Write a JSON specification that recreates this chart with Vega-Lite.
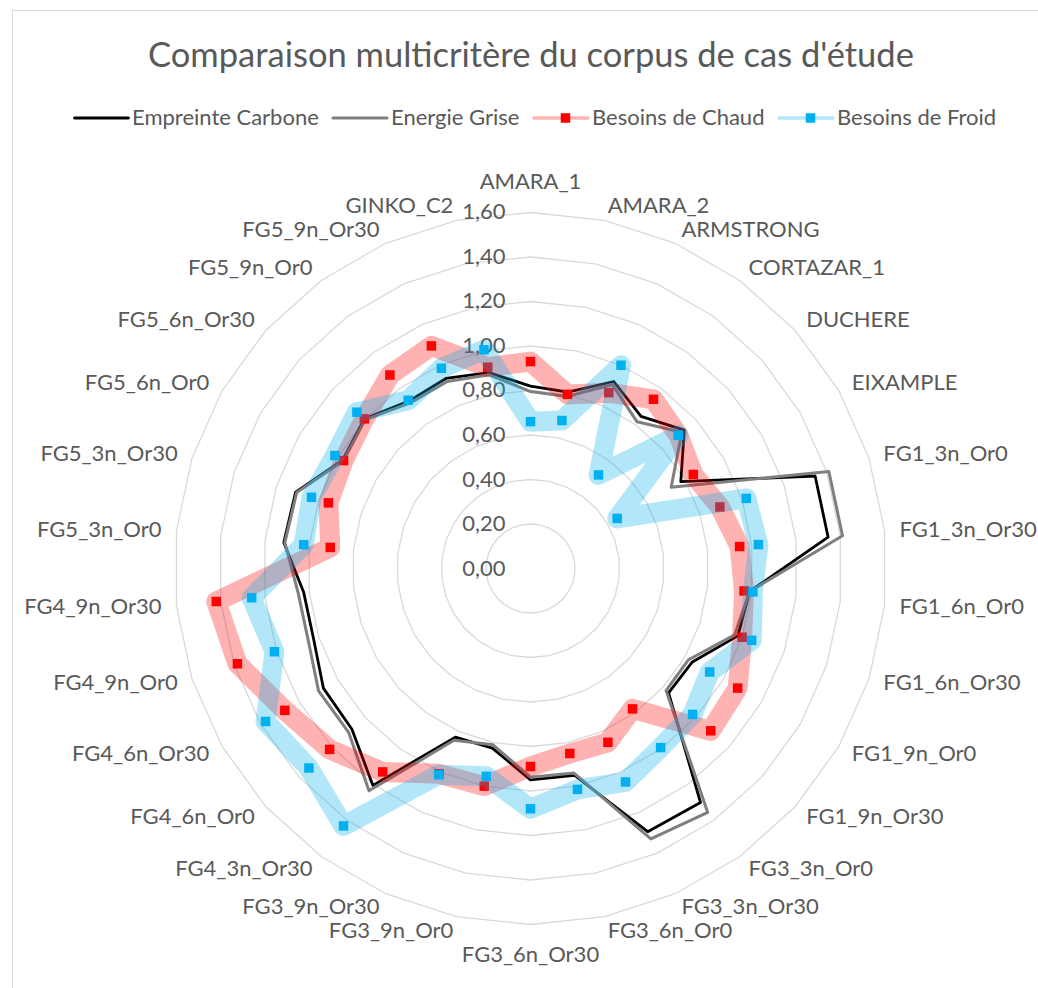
{
  "$schema": "https://vega.github.io/schema/vega-lite/v6.json",
  "width": 1026,
  "height": 978,
  "autosize": {"type": "none"},
  "padding": {"left": 12, "top": 10, "right": 0, "bottom": 0},
  "background": "white",
  "config": {"view": {"stroke": "#d9d9d9", "strokeWidth": 1}, "font": "Lato"},
  "title": {"text": "Comparaison multicritère du corpus de cas d'étude", "font": "Lato", "fontSize": 34.5, "fontWeight": "normal", "color": "#595959", "anchor": "middle", "dx": 6, "dy": 68},
  "datasets": {
    "rings": [
      {"r": 0.0, "label": "0,00", "k": [0]},
      {"r": 0.2, "label": "0,20", "k": [0,1,2,3,4,5,6,7,8,9,10,11,12,13,14,15,16,17,18,19,20,21,22,23,24,25,26,27,28,29]},
      {"r": 0.4, "label": "0,40", "k": [0,1,2,3,4,5,6,7,8,9,10,11,12,13,14,15,16,17,18,19,20,21,22,23,24,25,26,27,28,29]},
      {"r": 0.6, "label": "0,60", "k": [0,1,2,3,4,5,6,7,8,9,10,11,12,13,14,15,16,17,18,19,20,21,22,23,24,25,26,27,28,29]},
      {"r": 0.8, "label": "0,80", "k": [0,1,2,3,4,5,6,7,8,9,10,11,12,13,14,15,16,17,18,19,20,21,22,23,24,25,26,27,28,29]},
      {"r": 1.0, "label": "1,00", "k": [0,1,2,3,4,5,6,7,8,9,10,11,12,13,14,15,16,17,18,19,20,21,22,23,24,25,26,27,28,29]},
      {"r": 1.2, "label": "1,20", "k": [0,1,2,3,4,5,6,7,8,9,10,11,12,13,14,15,16,17,18,19,20,21,22,23,24,25,26,27,28,29]},
      {"r": 1.4, "label": "1,40", "k": [0,1,2,3,4,5,6,7,8,9,10,11,12,13,14,15,16,17,18,19,20,21,22,23,24,25,26,27,28,29]},
      {"r": 1.6, "label": "1,60", "k": [0,1,2,3,4,5,6,7,8,9,10,11,12,13,14,15,16,17,18,19,20,21,22,23,24,25,26,27,28,29]}
    ],
    "cases": [
      {"cat": "AMARA_1", "Empreinte Carbone": 0.82, "Energie Grise": 0.795, "Besoins de Chaud": 0.93, "Besoins de Froid": 0.66},
      {"cat": "AMARA_2", "Empreinte Carbone": 0.81, "Energie Grise": 0.79, "Besoins de Chaud": 0.80, "Besoins de Froid": 0.68},
      {"cat": "ARMSTRONG", "Empreinte Carbone": 0.92, "Energie Grise": 0.905, "Besoins de Chaud": 0.865, "Besoins de Froid": 1.00},
      {"cat": "CORTAZAR_1", "Empreinte Carbone": 0.845, "Energie Grise": 0.815, "Besoins de Chaud": 0.94, "Besoins de Froid": 0.52},
      {"cat": "DUCHERE", "Empreinte Carbone": 0.93, "Energie Grise": 0.915, "Besoins de Chaud": 0.895, "Besoins de Froid": 0.895},
      {"cat": "EIXAMPLE", "Empreinte Carbone": 0.78, "Energie Grise": 0.73, "Besoins de Chaud": 0.845, "Besoins de Froid": 0.45},
      {"cat": "FG1_3n_Or0", "Empreinte Carbone": 1.345, "Energie Grise": 1.41, "Besoins de Chaud": 0.895, "Besoins de Froid": 1.02},
      {"cat": "FG1_3n_Or30", "Empreinte Carbone": 1.345, "Energie Grise": 1.41, "Besoins de Chaud": 0.945, "Besoins de Froid": 1.03},
      {"cat": "FG1_6n_Or0", "Empreinte Carbone": 0.99, "Energie Grise": 0.99, "Besoins de Chaud": 0.965, "Besoins de Froid": 1.005},
      {"cat": "FG1_6n_Or30", "Empreinte Carbone": 0.98, "Energie Grise": 0.965, "Besoins de Chaud": 1.0, "Besoins de Froid": 1.045},
      {"cat": "FG1_9n_Or0", "Empreinte Carbone": 0.84, "Energie Grise": 0.82, "Besoins de Chaud": 1.075, "Besoins de Froid": 0.93},
      {"cat": "FG1_9n_Or30", "Empreinte Carbone": 0.835, "Energie Grise": 0.82, "Besoins de Chaud": 1.09, "Besoins de Froid": 0.98},
      {"cat": "FG3_3n_Or0", "Empreinte Carbone": 1.30, "Energie Grise": 1.355, "Besoins de Chaud": 0.78, "Besoins de Froid": 0.995},
      {"cat": "FG3_3n_Or30", "Empreinte Carbone": 1.295, "Energie Grise": 1.33, "Besoins de Chaud": 0.855, "Besoins de Froid": 1.05},
      {"cat": "FG3_6n_Or0", "Empreinte Carbone": 0.95, "Energie Grise": 0.94, "Besoins de Chaud": 0.85, "Besoins de Froid": 1.015},
      {"cat": "FG3_6n_Or30", "Empreinte Carbone": 0.95, "Energie Grise": 0.938, "Besoins de Chaud": 0.89, "Besoins de Froid": 1.08},
      {"cat": "FG3_9n_Or0", "Empreinte Carbone": 0.825, "Energie Grise": 0.81, "Besoins de Chaud": 1.0, "Besoins de Froid": 0.955},
      {"cat": "FG3_9n_Or30", "Empreinte Carbone": 0.83, "Energie Grise": 0.845, "Besoins de Chaud": 1.01, "Besoins de Froid": 1.015},
      {"cat": "FG4_3n_Or30", "Empreinte Carbone": 1.205, "Energie Grise": 1.235, "Besoins de Chaud": 1.13, "Besoins de Froid": 1.43},
      {"cat": "FG4_6n_Or0", "Empreinte Carbone": 1.08, "Energie Grise": 1.10, "Besoins de Chaud": 1.215, "Besoins de Froid": 1.34},
      {"cat": "FG4_6n_Or30", "Empreinte Carbone": 1.075, "Energie Grise": 1.10, "Besoins de Chaud": 1.275, "Besoins de Froid": 1.375},
      {"cat": "FG4_9n_Or0", "Empreinte Carbone": 1.025, "Energie Grise": 1.05, "Besoins de Chaud": 1.385, "Besoins de Froid": 1.21},
      {"cat": "FG4_9n_Or30", "Empreinte Carbone": 1.025, "Energie Grise": 1.05, "Besoins de Chaud": 1.42, "Besoins de Froid": 1.26},
      {"cat": "FG5_3n_Or0", "Empreinte Carbone": 1.115, "Energie Grise": 1.11, "Besoins de Chaud": 0.905, "Besoins de Froid": 1.025},
      {"cat": "FG5_3n_Or30", "Empreinte Carbone": 1.11, "Energie Grise": 1.105, "Besoins de Chaud": 0.955, "Besoins de Froid": 1.035},
      {"cat": "FG5_6n_Or0", "Empreinte Carbone": 0.975, "Energie Grise": 0.97, "Besoins de Chaud": 0.97, "Besoins de Froid": 1.015},
      {"cat": "FG5_6n_Or30", "Empreinte Carbone": 1.005, "Energie Grise": 1.0, "Besoins de Chaud": 1.005, "Besoins de Froid": 1.05},
      {"cat": "FG5_9n_Or0", "Empreinte Carbone": 0.93, "Energie Grise": 0.92, "Besoins de Chaud": 1.075, "Besoins de Froid": 0.935},
      {"cat": "FG5_9n_Or30", "Empreinte Carbone": 0.935, "Energie Grise": 0.92, "Besoins de Chaud": 1.095, "Besoins de Froid": 0.985},
      {"cat": "GINKO_C2", "Empreinte Carbone": 0.90, "Energie Grise": 0.89, "Besoins de Chaud": 0.925, "Besoins de Froid": 1.005}
    ]
  },
  "layer": [
    {
      "data": {"name": "rings"},
      "transform": [
        {"filter": "datum.r > 0"},
        {"flatten": ["k"]},
        {"calculate": "datum.k*2*PI/30", "as": "ang"},
        {"calculate": "datum.r*sin(datum.ang)", "as": "gx"},
        {"calculate": "datum.r*cos(datum.ang)", "as": "gy"}
      ],
      "mark": {"type": "line", "interpolate": "linear-closed", "stroke": "#d9d9d9", "strokeWidth": 1.3},
      "encoding": {
        "x": {"field": "gx", "type": "quantitative", "scale": {"domain": [-2.33034, 2.2809], "nice": false, "zero": false}, "axis": null},
        "y": {"field": "gy", "type": "quantitative", "scale": {"domain": [-1.88539, 2.51011], "nice": false, "zero": false}, "axis": null},
        "detail": {"field": "r", "type": "nominal"},
        "order": {"field": "k", "type": "quantitative"}
      }
    },
    {
      "data": {"name": "rings"},
      "mark": {"type": "text", "align": "right", "baseline": "middle", "dx": -25, "font": "Lato", "fontSize": 22, "color": "#595959"},
      "encoding": {
        "x": {"datum": 0, "type": "quantitative", "scale": {"domain": [-2.33034, 2.2809], "nice": false, "zero": false}, "axis": null},
        "y": {"field": "r", "type": "quantitative", "scale": {"domain": [-1.88539, 2.51011], "nice": false, "zero": false}, "axis": null},
        "text": {"field": "label"}
      }
    },
    {
      "data": {"name": "cases"},
      "transform": [
        {"window": [{"op": "row_number", "as": "idx"}]},
        {"calculate": "(datum.idx-1)*2*PI/30", "as": "ang"},
        {"calculate": "(datum.idx-1)%15==0 ? 1.735 : 1.6674", "as": "lr"},
        {"calculate": "datum.lr*sin(datum.ang)", "as": "lx"},
        {"calculate": "datum.lr*cos(datum.ang)", "as": "ly"}
      ],
      "encoding": {
        "x": {"field": "lx", "type": "quantitative", "scale": {"domain": [-2.33034, 2.2809], "nice": false, "zero": false}, "axis": null},
        "y": {"field": "ly", "type": "quantitative", "scale": {"domain": [-1.88539, 2.51011], "nice": false, "zero": false}, "axis": null},
        "text": {"field": "cat"}
      },
      "layer": [
        {"transform": [{"filter": "(datum.idx-1)%15!=0 && datum.idx-1 < 15"}], "mark": {"type": "text", "align": "left", "baseline": "middle", "font": "Lato", "fontSize": 22, "color": "#595959"}},
        {"transform": [{"filter": "(datum.idx-1)%15!=0 && datum.idx-1 > 15"}], "mark": {"type": "text", "align": "right", "baseline": "middle", "font": "Lato", "fontSize": 22, "color": "#595959"}},
        {"transform": [{"filter": "(datum.idx-1)%15==0"}], "mark": {"type": "text", "align": "center", "baseline": "middle", "font": "Lato", "fontSize": 22, "color": "#595959"}}
      ]
    },
    {
      "data": {"name": "cases"},
      "transform": [
        {"window": [{"op": "row_number", "as": "idx"}]},
        {"fold": ["Empreinte Carbone", "Energie Grise", "Besoins de Chaud", "Besoins de Froid"], "as": ["series", "value"]},
        {"calculate": "(datum.idx-1)*2*PI/30", "as": "ang"},
        {"calculate": "datum.value*sin(datum.ang)", "as": "px"},
        {"calculate": "datum.value*cos(datum.ang)", "as": "py"}
      ],
      "encoding": {
        "x": {"field": "px", "type": "quantitative", "scale": {"domain": [-2.33034, 2.2809], "nice": false, "zero": false}, "axis": null},
        "y": {"field": "py", "type": "quantitative", "scale": {"domain": [-1.88539, 2.51011], "nice": false, "zero": false}, "axis": null},
        "order": {"field": "idx", "type": "quantitative"}
      },
      "layer": [
        {
          "transform": [{"filter": "datum.series == 'Empreinte Carbone' || datum.series == 'Energie Grise'"}],
          "mark": {"type": "line", "interpolate": "linear-closed", "strokeJoin": "round"},
          "encoding": {
            "stroke": {"field": "series", "type": "nominal",
              "scale": {"domain": ["Empreinte Carbone", "Energie Grise", "Besoins de Chaud", "Besoins de Froid"], "range": ["#000000", "#7f7f7f", "#ffb3b3", "#b3e7fb"]},
              "legend": {"title": null, "orient": "none", "direction": "horizontal", "legendX": 61, "legendY": 93, "clipHeight": 30, "symbolType": "stroke", "symbolSize": 2916, "labelFont": "Lato", "labelFontSize": 22, "labelColor": "#595959", "labelLimit": 0, "labelOffset": 2, "columnPadding": 12, "symbolOpacity": 1,
                "encode": {"symbols": {"update": {"strokeCap": {"value": "round"}}}}}},
            "strokeWidth": {"field": "series", "type": "nominal",
              "scale": {"domain": ["Empreinte Carbone", "Energie Grise", "Besoins de Chaud", "Besoins de Froid"], "range": [2.8, 3.5, 9, 9]},
              "legend": {"title": null, "orient": "none", "direction": "horizontal", "legendX": 61, "legendY": 93, "clipHeight": 30, "symbolType": "stroke", "symbolSize": 2916, "labelFont": "Lato", "labelFontSize": 22, "labelColor": "#595959", "labelLimit": 0, "labelOffset": 2, "columnPadding": 12, "symbolOpacity": 1,
                "encode": {"symbols": {"update": {"strokeCap": {"value": "round"}}}}}}
          }
        },
        {
          "transform": [{"filter": "datum.series == 'Besoins de Chaud'"}],
          "mark": {"type": "line", "interpolate": "linear-closed", "stroke": "#ff0000", "strokeOpacity": 0.3, "strokeWidth": 20, "strokeJoin": "round"}
        },
        {
          "transform": [{"filter": "datum.series == 'Besoins de Chaud'"}],
          "mark": {"type": "point", "shape": "square", "filled": true, "size": 90, "opacity": 1},
          "encoding": {
            "fill": {"field": "series", "type": "nominal",
              "scale": {"domain": ["Besoins de Chaud", "Besoins de Froid"], "range": ["#ff0000", "#00b0f0"]},
              "legend": {"title": null, "orient": "none", "direction": "horizontal", "legendX": 522, "legendY": 93, "clipHeight": 30, "symbolType": "M-0.176,-0.176L0.176,-0.176L0.176,0.176L-0.176,0.176Z", "symbolSize": 2916, "symbolStrokeWidth": 9, "symbolStrokeColor": "transparent", "labelFont": "Lato", "labelFontSize": 22, "labelExpr": "''", "labelLimit": 0, "labelOffset": 2, "columnPadding": 180, "symbolOpacity": 1}}
          }
        },
        {
          "transform": [{"filter": "datum.series == 'Besoins de Froid'"}],
          "mark": {"type": "line", "interpolate": "linear-closed", "stroke": "#00b0f0", "strokeOpacity": 0.3, "strokeWidth": 20, "strokeJoin": "round"}
        },
        {
          "transform": [{"filter": "datum.series == 'Besoins de Froid'"}],
          "mark": {"type": "point", "shape": "square", "filled": true, "size": 90, "opacity": 1},
          "encoding": {
            "fill": {"field": "series", "type": "nominal",
              "scale": {"domain": ["Besoins de Chaud", "Besoins de Froid"], "range": ["#ff0000", "#00b0f0"]},
              "legend": {"title": null, "orient": "none", "direction": "horizontal", "legendX": 522, "legendY": 93, "clipHeight": 30, "symbolType": "M-0.176,-0.176L0.176,-0.176L0.176,0.176L-0.176,0.176Z", "symbolSize": 2916, "symbolStrokeWidth": 9, "symbolStrokeColor": "transparent", "labelFont": "Lato", "labelFontSize": 22, "labelExpr": "''", "labelLimit": 0, "labelOffset": 2, "columnPadding": 180, "symbolOpacity": 1}}
          }
        }
      ]
    }
  ]
}
